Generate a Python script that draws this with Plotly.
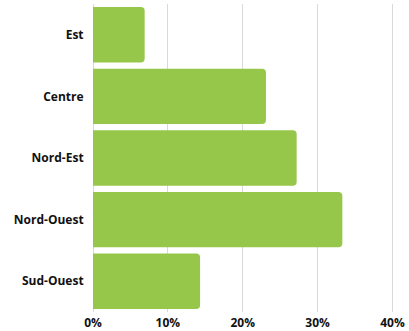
import plotly.graph_objects as go

regions = ["Est", "Centre", "Nord-Est", "Nord-Ouest", "Sud-Ouest"]
shares = [0.069, 0.231, 0.272, 0.333, 0.143]
x_ticks = [0, 0.1, 0.2, 0.3, 0.4]
x_tick_labels = ["0%", "10%", "20%", "30%", "40%"]

label_font = dict(family="Open Sans", size=12, color="#111111", weight="bold")

fig = go.Figure(
    go.Bar(
        x=shares,
        y=regions,
        orientation="h",
        marker=dict(color="#97C74A", line=dict(width=0)),
        hoverinfo="skip",
    )
)

fig.update_layout(
    width=409,
    height=331,
    margin=dict(l=93, r=14.5, t=4, b=19),
    paper_bgcolor="white",
    plot_bgcolor="white",
    bargap=0.1,
    barcornerradius=4,
    showlegend=False,
    font=dict(family="Open Sans", size=13, color="#111111"),
)

fig.update_xaxes(
    range=[0, 0.402],
    tickvals=x_ticks,
    ticktext=x_tick_labels,
    showgrid=True,
    gridcolor="#d9d9d9",
    gridwidth=1,
    zeroline=True,
    zerolinecolor="#d9d9d9",
    zerolinewidth=1,
    showline=False,
    automargin=False,
    ticklabelstandoff=2,
    tickfont=label_font,
    fixedrange=True,
)

fig.update_yaxes(
    categoryorder="array",
    categoryarray=regions,
    autorange="reversed",
    showgrid=False,
    zeroline=False,
    showline=False,
    automargin=False,
    ticks="outside",
    ticklen=6,
    tickcolor="rgba(0,0,0,0)",
    tickfont=label_font,
    fixedrange=True,
)

fig.write_html("out.html")
